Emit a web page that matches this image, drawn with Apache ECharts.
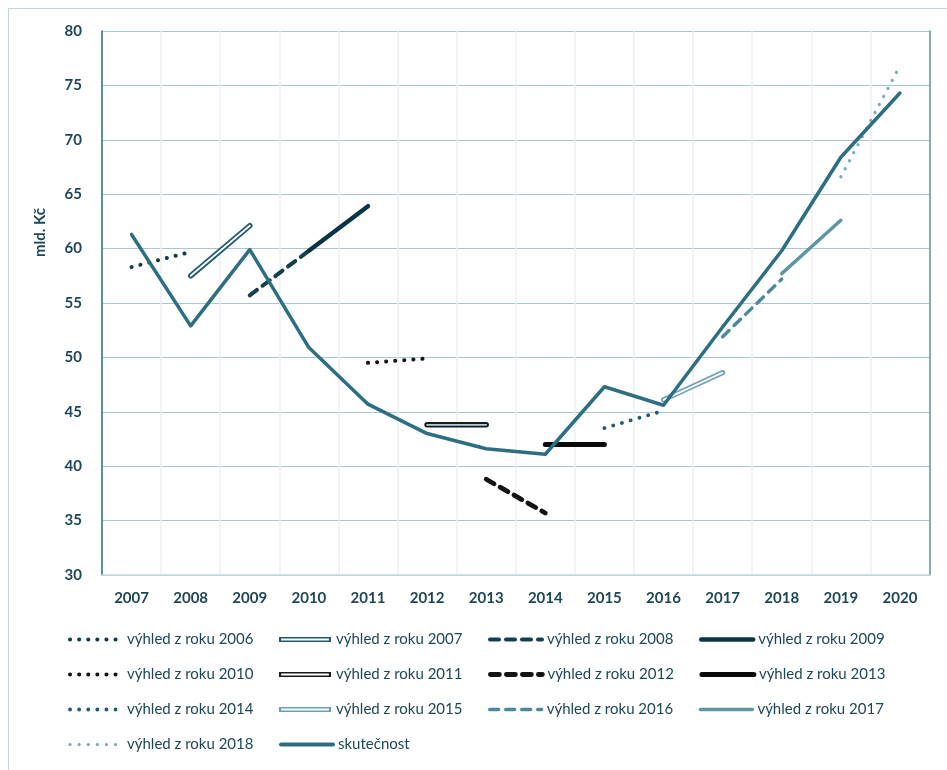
<!DOCTYPE html>
<html>
<head>
<meta charset="utf-8">
<script src="https://cdn.jsdelivr.net/npm/echarts@6/dist/echarts.min.js"></script>
<style>
html,body{margin:0;padding:0;background:#fff;overflow:hidden;}
#frame{position:absolute;left:8px;top:8px;width:960px;height:800px;border:1px solid #c3d6dd;box-sizing:border-box;}
#chart{position:absolute;left:0;top:0;width:947px;height:770px;}
</style>
</head>
<body>
<div id="frame"></div>
<div id="chart"></div>
<script>
const years = ['2007','2008','2009','2010','2011','2012','2013','2014','2015','2016','2017','2018','2019','2020'];
const actual = [61.3, 52.9, 59.9, 50.9, 45.7, 43.0, 41.6, 41.1, 47.3, 45.6, 52.8, 59.8, 68.4, 74.3];
const forecastNames = ['výhled z roku 2006','výhled z roku 2007','výhled z roku 2008','výhled z roku 2009',
  'výhled z roku 2010','výhled z roku 2011','výhled z roku 2012','výhled z roku 2013',
  'výhled z roku 2014','výhled z roku 2015','výhled z roku 2016','výhled z roku 2017','výhled z roku 2018'];
const forecastFrom = ['2007','2008','2009','2010','2011','2012','2013','2014','2015','2016','2017','2018','2019'];
const forecastTo   = ['2008','2009','2010','2011','2012','2013','2014','2015','2016','2017','2018','2019','2020'];
const forecastStart = [58.3, 57.5, 55.7, 59.8, 49.5, 43.8, 38.8, 42.0, 43.5, 46.1, 51.9, 57.7, 66.6];
const forecastEnd   = [59.7, 62.1, 59.8, 63.9, 49.9, 43.8, 35.7, 42.0, 45.1, 48.6, 57.2, 62.6, 76.8];
const actualName = 'skutečnost';

// style per forecast: kind, color, width, inner color (for double)
const styles = [
  {kind:'dot',   color:'#0f3b4a', w:4.0},
  {kind:'double',color:'#1f5a6c', w:5.5, inner:'#ffffff'},
  {kind:'dash',  color:'#143f4e', w:4.0},
  {kind:'solid', color:'#0c3543', w:4.4},
  {kind:'dot',   color:'#141414', w:4.0},
  {kind:'double',color:'#1a1a1a', w:5.5, inner:'#a9d0df'},
  {kind:'dash',  color:'#141414', w:4.8},
  {kind:'solid', color:'#0a0a0a', w:5.0},
  {kind:'dot',   color:'#1f5c6d', w:3.8},
  {kind:'double',color:'#6a9fb0', w:5.0, inner:'#ffffff'},
  {kind:'dash',  color:'#4a8a9c', w:3.4},
  {kind:'solid', color:'#5e95a5', w:3.4},
  {kind:'dot',   color:'#7aa9b9', w:3.2}
];

const font = 'Lato, "Open Sans", sans-serif';
const txt = '#1d4756';
const doubleIcon = 'path://M0,0 L100,0 L100,10 L0,10 Z M4,3.2 L4,6.8 L96,6.8 L96,3.2 Z';

const series = [];
const legendData = [];
forecastNames.forEach((name, i) => {
  const s = styles[i];
  const data = [[forecastFrom[i], forecastStart[i]], [forecastTo[i], forecastEnd[i]]];
  let type = 'solid';
  if (s.kind === 'dot') type = [0.1, 9];
  if (s.kind === 'dash') type = [9, 7];
  series.push({
    name: name, type: 'line', data: data, symbol: 'none', silent: true,
    color: s.color,
    lineStyle: {color: s.color, width: s.w, type: type, cap: 'round'},
    z: 2
  });
  if (s.kind === 'double') {
    series.push({
      name: name + ' ', type: 'line', data: data, symbol: 'none', silent: true,
      color: s.inner,
      lineStyle: {color: s.inner, width: 1.8, cap: 'round'},
      z: 2
    });
    legendData.push({name: name, icon: doubleIcon, itemStyle: {opacity: 1, color: s.color}});
  } else {
    legendData.push({name: name, lineStyle: {width: s.w, type: type, cap: 'round', color: s.color}});
  }
});
series.push({
  name: actualName, type: 'line', data: actual, symbol: 'none', silent: true,
  color: '#2c6e82',
  lineStyle: {color: '#2c6e82', width: 3.5, cap: 'round', join: 'round'},
  z: 3
});
legendData.push({name: actualName, lineStyle: {width: 4, color: '#2c6e82', cap: 'round'}});

const chart = echarts.init(document.getElementById('chart'), null, {renderer: 'canvas'});
chart.setOption({
  backgroundColor: 'transparent',
  animation: false,
  grid: {left: 102, right: 17.5, top: 31, bottom: 195, containLabel: false},
  xAxis: {
    type: 'category', data: years, boundaryGap: true,
    axisLine: {show: true, lineStyle: {color: '#cbd8dd', width: 1.5}},
    axisTick: {show: false},
    axisLabel: {color: txt, fontFamily: font, fontSize: 15, fontWeight: 'bold', margin: 16},
    splitLine: {show: true, lineStyle: {color: '#eceff1', width: 1.5}}
  },
  yAxis: [{
    type: 'value', min: 30, max: 80, interval: 5,
    axisLine: {show: true, lineStyle: {color: '#2f6b7f', width: 1.5}},
    axisTick: {show: false},
    axisLabel: {color: txt, fontFamily: font, fontSize: 15, fontWeight: 'bold', margin: 20},
    splitLine: {show: true, lineStyle: {color: '#a9c7d2', width: 1.2}}
  }, {
    type: 'value', min: 30, max: 80, interval: 5, position: 'right',
    axisLine: {show: true, lineStyle: {color: '#5f93a5', width: 1.5}},
    axisTick: {show: false}, axisLabel: {show: false}, splitLine: {show: false}
  }],
  legend: {
    data: legendData,
    left: 68, top: 628, width: 840, padding: 0,
    itemWidth: 52, itemHeight: 7, itemGap: 12,
    selectedMode: false,
    itemStyle: {opacity: 0},
    textStyle: {color: txt, fontFamily: font, fontSize: 15, width: 140, height: 23, lineHeight: 23, overflow: 'none'}
  },
  graphic: [{
    type: 'text', left: 33, top: 208,
    rotation: Math.PI / 2,
    style: {text: 'mld. Kč', fill: txt, font: 'bold 15px Lato, "Open Sans", sans-serif'}
  }],
  series: series
});
</script>
</body>
</html>
